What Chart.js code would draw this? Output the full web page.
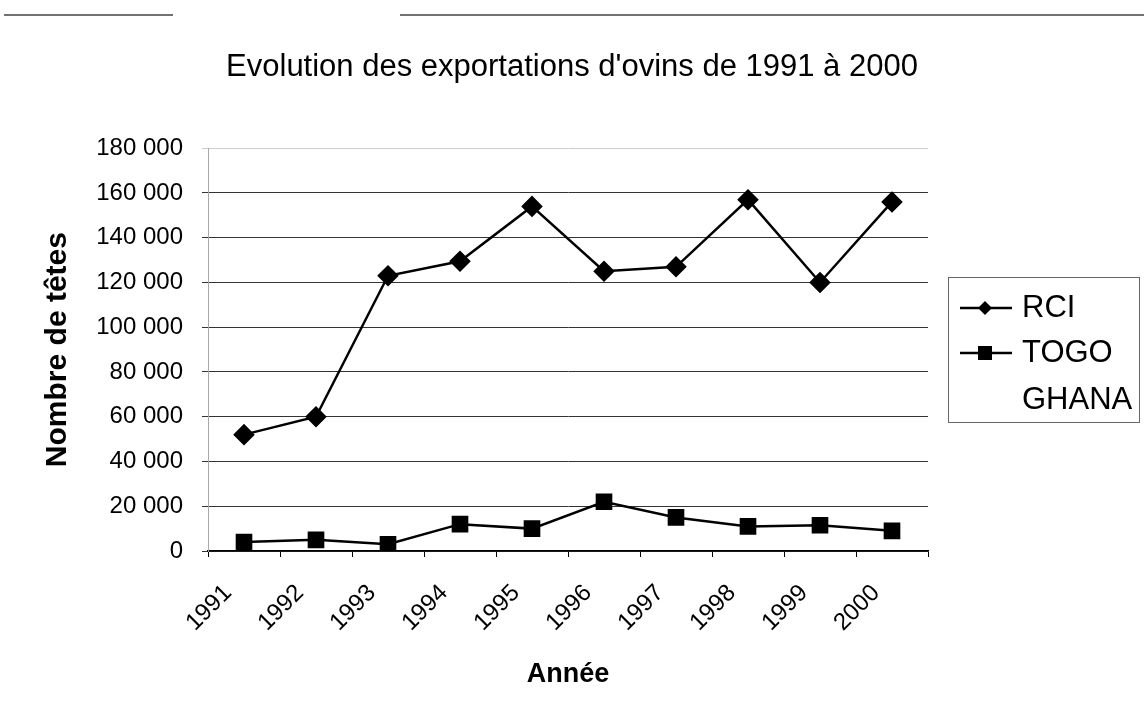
<!DOCTYPE html>
<html>
<head>
<meta charset="utf-8">
<title>Exportations d'ovins</title>
<script src="https://cdn.jsdelivr.net/npm/chart.js@4.4.0/dist/chart.umd.min.js"></script>
<style>
  body { margin: 0; background: #fff; }
  #wrap { width: 1144px; height: 715px; }
</style>
</head>
<body>
<div id="wrap"><canvas id="myChart" width="1144" height="715"></canvas></div>
<script>
var years = ["1991", "1992", "1993", "1994", "1995", "1996", "1997", "1998", "1999", "2000"];
var rci = [52000, 60000, 123000, 129500, 154000, 125000, 127000, 157000, 120000, 156000];
var togo = [4000, 5000, 3000, 12000, 10000, 22000, 15000, 11000, 11500, 9000];
var ghana = [null, null, null, null, null, null, null, null, null, null];
var seriesNames = ["RCI", "TOGO", "GHANA"];

var FONT = "'Liberation Sans', Arial, sans-serif";

function fmt(v) {
  return String(v).replace(/\B(?=(\d{3})+(?!\d))/g, " ");
}

// page rule at the top of the scanned sheet
var pageRule = {
  id: 'pageRule',
  beforeDraw: function (chart) {
    var ctx = chart.ctx;
    ctx.save();
    ctx.strokeStyle = "#444";
    ctx.lineWidth = 1.5;
    ctx.beginPath();
    ctx.moveTo(4, 15); ctx.lineTo(173, 15);
    ctx.moveTo(400, 15); ctx.lineTo(1144, 15);
    ctx.stroke();
    ctx.restore();
  }
};

// boxed legend on the right, like the Excel one
var legendBox = {
  id: 'legendBox',
  afterDraw: function (chart) {
    var ctx = chart.ctx;
    var left = chart.chartArea.right + 20;
    var top = 277;
    ctx.save();
    ctx.strokeStyle = "#666";
    ctx.lineWidth = 1;
    ctx.strokeRect(left + 0.5, top + 0.5, 191, 145);
    var rows = [31, 76, 123];
    chart.data.datasets.forEach(function (ds, i) {
      var y = top + rows[i];
      var x0 = left + 12, x1 = left + 64, cx = left + 37;
      if (ds.borderColor !== 'transparent') {
        ctx.strokeStyle = ds.borderColor;
        ctx.lineWidth = ds.borderWidth;
        ctx.beginPath();
        ctx.moveTo(x0, y); ctx.lineTo(x1, y);
        ctx.stroke();
        ctx.fillStyle = ds.pointBackgroundColor;
        ctx.beginPath();
        if (ds.pointStyle === 'rectRot') {
          ctx.moveTo(cx - 7, y); ctx.lineTo(cx, y - 7); ctx.lineTo(cx + 7, y); ctx.lineTo(cx, y + 7);
        } else {
          ctx.rect(cx - 7, y - 7, 14, 14);
        }
        ctx.closePath();
        ctx.fill();
      }
      ctx.fillStyle = "#000";
      ctx.font = "31px " + FONT;
      ctx.textBaseline = "middle";
      ctx.textAlign = "left";
      ctx.fillText(ds.label, left + 74, y);
    });
    ctx.restore();
  }
};

var ctx = document.getElementById("myChart").getContext("2d");
var myChart = new Chart(ctx, {
  type: "line",
  data: {
    labels: years,
    datasets: [
      {
        label: seriesNames[0],
        data: rci,
        borderColor: "#000",
        borderWidth: 2.5,
        pointStyle: "rectRot",
        pointRadius: 9,
        pointBackgroundColor: "#000",
        pointBorderColor: "#000",
        tension: 0
      },
      {
        label: seriesNames[1],
        data: togo,
        borderColor: "#000",
        borderWidth: 2.5,
        pointStyle: "rect",
        pointRadius: 10,
        pointBackgroundColor: "#000",
        pointBorderColor: "#000",
        tension: 0
      },
      {
        label: seriesNames[2],
        data: ghana,
        borderColor: "transparent",
        pointRadius: 0
      }
    ]
  },
  options: {
    responsive: false,
    animation: false,
    devicePixelRatio: 1,
    plugins: {
      legend: { display: false },
      tooltip: { enabled: false },
      title: {
        display: true,
        text: "Evolution des exportations d'ovins de 1991 à 2000",
        color: "#000",
        font: { family: FONT, size: 31, weight: "normal" },
        padding: { top: 49, bottom: 62 }
      }
    },
    scales: {
      x: {
        type: "category",
        offset: true,
        grid: { display: true, drawOnChartArea: false, tickLength: 6, color: "#000", offset: true },
        border: { display: true, color: "#000", width: 1.5 },
        ticks: {
          color: "#000",
          font: { family: FONT, size: 24 },
          minRotation: 45,
          maxRotation: 45,
          autoSkip: false,
          padding: 22,
          labelOffset: -16
        },
        title: {
          display: true,
          text: "Année",
          color: "#000",
          font: { family: FONT, size: 27, weight: "bold" },
          padding: { top: 0, bottom: 24 }
        },
        afterFit: function (scale) { scale.height = 164; }
      },
      y: {
        min: 0,
        max: 180000,
        grid: {
          color: function (c) { return c.tick && c.tick.value === 180000 ? "#ccc" : "#333"; },
          lineWidth: 1,
          tickLength: 6
        },
        border: { display: true, color: "#aaa", width: 1 },
        ticks: {
          stepSize: 20000,
          color: "#000",
          font: { family: FONT, size: 24 },
          padding: 19,
          callback: function (v) { return fmt(v); }
        },
        title: {
          display: true,
          text: "Nombre de têtes",
          color: "#000",
          font: { family: FONT, size: 30, weight: "bold" },
          padding: { top: 40, bottom: 0 }
        },
        afterFit: function (scale) { scale.width = 208; }
      },
      // empty right-hand axis that keeps room for the legend box
      side: {
        position: "right",
        display: true,
        grid: { drawOnChartArea: false, drawTicks: false, display: false },
        border: { display: false },
        ticks: { display: false },
        afterFit: function (scale) { scale.width = 216; }
      }
    }
  },
  plugins: [pageRule, legendBox]
});
</script>
</body>
</html>
